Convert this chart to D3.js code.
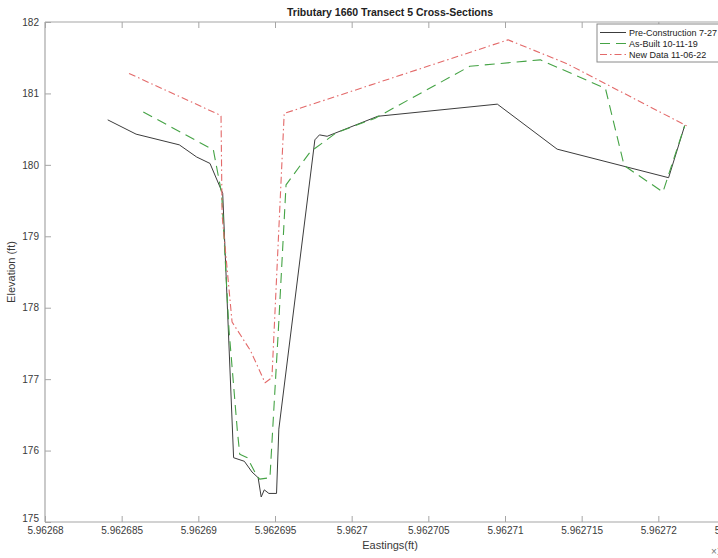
<!DOCTYPE html>
<html>
<head>
<meta charset="utf-8">
<script src="https://cdn.jsdelivr.net/npm/d3@7"></script>
<style>
  html, body { margin: 0; padding: 0; background: #fff; }
  svg { display: block; font-family: "Liberation Sans", Arial, Helvetica, sans-serif; }
</style>
</head>
<body>
<svg id="chart" width="718" height="558"></svg>
<script>
// Survey cross-sections: Easting offset (ft) from 5,962,680 and elevation (ft)
const EASTING_BASE = 5962680;

const preX = [4.09, 5.94, 8.76, 9.89, 10.76, 11.59, 12.3, 13.0, 13.5, 13.9, 14.1, 14.3, 14.6, 15.1, 15.25, 17.6, 17.9, 18.4, 21.7, 29.5, 33.4, 40.67, 41.72];
const preY = [180.63, 180.43, 180.28, 180.11, 180.02, 179.60, 175.90, 175.85, 175.70, 175.62, 175.35, 175.45, 175.40, 175.40, 176.30, 180.35, 180.42, 180.40, 180.68, 180.85, 180.22, 179.82, 180.55];

const asBuiltX = [6.41, 10.98, 11.52, 12.0, 12.54, 12.7, 13.2, 13.8, 14.0, 14.67, 15.22, 15.72, 17.29, 19.0, 21.5, 27.7, 32.3, 36.55, 37.77, 40.3, 41.72];
const asBuiltY = [180.74, 180.21, 179.60, 177.69, 176.29, 175.95, 175.90, 175.65, 175.60, 175.62, 177.69, 179.72, 180.18, 180.45, 180.65, 181.38, 181.47, 181.07, 179.99, 179.62, 180.55];

const newX = [5.48, 11.48, 11.55, 12.2, 13.4, 14.35, 14.8, 15.6, 30.2, 34.0, 41.9];
const newY = [181.28, 180.69, 179.30, 177.80, 177.40, 176.95, 177.02, 180.72, 181.75, 181.42, 180.54];

const seriesNames = ["Pre-Construction 7-27", "As-Built 10-11-19", "New Data 11-06-22"];

const xTicks = [5962680, 5962685, 5962690, 5962695, 5962700, 5962705, 5962710, 5962715, 5962720, 5962725];
const xTickLabels = ["5.96268", "5.962685", "5.96269", "5.962695", "5.9627", "5.962705", "5.96271", "5.962715", "5.96272", "5.962725"];
const yTicks = [175, 176, 177, 178, 179, 180, 181, 182];

const svg = d3.select("#chart");
const W = 718, H = 558;
const plot = { left: 45, right: 735, top: 22, bottom: 522 };

svg.append("rect").attr("width", W).attr("height", H).attr("fill", "#fff");

const x = d3.scaleLinear().domain([5962680, 5962725]).range([plot.left, plot.right]);
const y = d3.scaleLinear().domain([175, 182]).range([plot.bottom, plot.top]);

const axisColor = "#a6a6a6";
const labelColor = "#3a3a3a";

// Axis box lines
svg.append("line").attr("x1", plot.left).attr("x2", plot.right).attr("y1", plot.bottom).attr("y2", plot.bottom)
  .attr("stroke", axisColor).attr("stroke-width", 1.2);
svg.append("line").attr("x1", plot.left).attr("x2", plot.right).attr("y1", plot.top).attr("y2", plot.top)
  .attr("stroke", axisColor).attr("stroke-width", 1.2);
svg.append("line").attr("x1", plot.left).attr("x2", plot.left).attr("y1", plot.top).attr("y2", plot.bottom)
  .attr("stroke", axisColor).attr("stroke-width", 1.2);

// Bottom axis: inward ticks, labels below
const xb = d3.axisBottom(x).tickValues(xTicks).tickSize(-6).tickPadding(6)
  .tickFormat((d, i) => xTickLabels[i]);
const gx = svg.append("g").attr("transform", `translate(0,${plot.bottom})`).call(xb);
gx.select(".domain").remove();
gx.selectAll(".tick line").attr("stroke", axisColor);
gx.selectAll(".tick text").attr("fill", labelColor).attr("font-size", 10).attr("dy", "0.55em")
  .attr("font-family", "Liberation Sans, Arial, sans-serif");

// Top axis: ticks only
const xt = d3.axisTop(x).tickValues(xTicks).tickSize(-6).tickFormat("");
const gxt = svg.append("g").attr("transform", `translate(0,${plot.top})`).call(xt);
gxt.select(".domain").remove();
gxt.selectAll(".tick line").attr("stroke", axisColor);

// Left axis
const yl = d3.axisLeft(y).tickValues(yTicks).tickSize(-6).tickPadding(6).tickFormat(d3.format("d"));
const gy = svg.append("g").attr("transform", `translate(${plot.left},0)`).call(yl);
gy.select(".domain").remove();
gy.selectAll(".tick line").attr("stroke", axisColor);
gy.selectAll(".tick text").attr("fill", labelColor).attr("font-size", 10)
  .attr("font-family", "Liberation Sans, Arial, sans-serif");
// Lift the 175 label a little so it sits clear of the first Easting label
gy.selectAll(".tick").filter(d => d === 175).select("text").attr("dy", "-0.05em");

// Titles
svg.append("text").attr("x", (plot.left + plot.right) / 2).attr("y", 16)
  .attr("text-anchor", "middle").attr("font-size", 10.5).attr("font-weight", "bold").attr("fill", "#222")
  .text("Tributary 1660 Transect 5 Cross-Sections");
svg.append("text").attr("x", (plot.left + plot.right) / 2).attr("y", 549)
  .attr("text-anchor", "middle").attr("font-size", 11).attr("fill", labelColor)
  .text("Eastings(ft)");
svg.append("text").attr("transform", `translate(15,${(plot.top + plot.bottom) / 2}) rotate(-90)`)
  .attr("text-anchor", "middle").attr("font-size", 11).attr("fill", labelColor)
  .text("Elevation (ft)");
// Exponent note for the Easting axis
svg.append("text").attr("x", 711).attr("y", 555).attr("font-size", 10).attr("fill", "#777")
  .text("\u00d710\u2076");

// Series
const styles = [
  { color: "#3c3c3c", dash: null, width: 1.0 },
  { color: "#45a345", dash: "10,6", width: 1.1 },
  { color: "#e36a6a", dash: "7,3,1.5,3", width: 1.1 }
];
const seriesX = [preX, asBuiltX, newX];
const seriesY = [preY, asBuiltY, newY];

const line = d3.line().x(d => x(EASTING_BASE + d[0])).y(d => y(d[1]));

seriesX.forEach((xs, k) => {
  const pts = xs.map((v, i) => [v, seriesY[k][i]]);
  svg.append("path").datum(pts)
    .attr("d", line)
    .attr("fill", "none")
    .attr("stroke", styles[k].color)
    .attr("stroke-width", styles[k].width)
    .attr("stroke-dasharray", styles[k].dash)
    .attr("stroke-linejoin", "round");
});

// Legend
const leg = svg.append("g").attr("transform", "translate(597,24)");
leg.append("rect").attr("x", 0).attr("y", 0).attr("width", 140).attr("height", 38)
  .attr("fill", "#fff").attr("stroke", "#8a8a8a").attr("stroke-width", 1);
seriesNames.forEach((name, k) => {
  const ry = 8.5 + k * 11;
  leg.append("line").attr("x1", 3).attr("x2", 29).attr("y1", ry).attr("y2", ry)
    .attr("stroke", styles[k].color).attr("stroke-width", styles[k].width)
    .attr("stroke-dasharray", styles[k].dash);
  leg.append("text").attr("x", 32).attr("y", ry).attr("dy", "0.35em")
    .attr("font-size", 9).attr("fill", "#222").text(name);
});
</script>
</body>
</html>
